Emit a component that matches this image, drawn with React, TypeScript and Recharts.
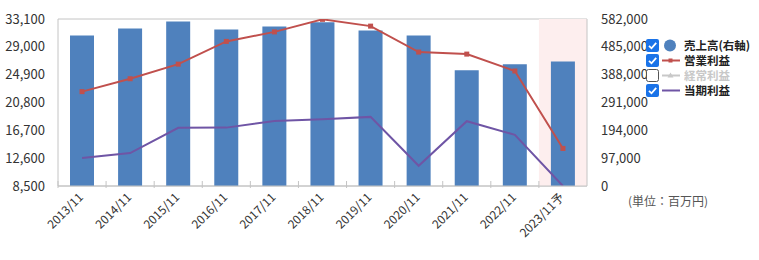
import React from 'react';
import { ComposedChart, Bar, Line, XAxis, YAxis, CartesianGrid, ReferenceArea } from 'recharts';

const periods = ['2013/11', '2014/11', '2015/11', '2016/11', '2017/11', '2018/11', '2019/11', '2020/11', '2021/11', '2022/11', '2023/11予'];
const sales = [524700, 549000, 573000, 545500, 556000, 571000, 542000, 524700, 403000, 424000, 434000];
const operatingProfit = [22400, 24300, 26450, 29800, 31200, 33050, 32050, 28230, 27930, 25440, 14030];
const netProfit = [12610, 13350, 17070, 17100, 18090, 18340, 18680, 11480, 18050, 16040, 8500];
const leftTicks = [8500, 12600, 16700, 20800, 24900, 29000, 33100];
const rightTicks = [0, 97000, 194000, 291000, 388000, 485000, 582000];
// forecast period, highlighted in pink
const forecastPeriod = '2023/11予';

const data = periods.map((p, i) => ({
    period: p,
    sales: sales[i],
    op: operatingProfit[i],
    net: netProfit[i],
}));

const FONT = '"Noto Sans CJK JP", "Noto Sans", sans-serif';
const TEXT = '#333';
const GRID = '#c4c4c4';
const BAR = '#4f81bd';
const RED = '#c0504d';
const PURPLE = '#6f55a5';
const BAND = 48.1;

const fmt = (v: number) => v.toLocaleString('en-US');

function PeriodTick(props: any) {
    const { x, y, payload } = props;
    return (
        <g>
            <line x1={x - BAND / 2} x2={x - BAND / 2} y1={y} y2={y - 7} stroke={GRID} />
            <text x={x + 2} y={y + 10} textAnchor="end" fill={TEXT} fontSize={12} fontFamily={FONT}
                transform={`rotate(-45, ${x + 2}, ${y + 10})`}>{payload.value}</text>
        </g>
    );
}

function SquareDot(props: any) {
    const { cx, cy } = props;
    if (cx == null || cy == null) return null;
    return <rect x={cx - 2.5} y={cy - 2.5} width={5} height={5} fill={RED} />;
}

function Check({ on }: { on: boolean }) {
    return (
        <svg width={13} height={13} style={{ display: 'block' }}>
            {on ? (
                <>
                    <rect x={0} y={0} width={13} height={13} rx={2} fill="#1a73e8" />
                    <path d="M3 6.8 L5.5 9.3 L10.2 3.8" stroke="#fff" strokeWidth={1.8} fill="none" />
                </>
            ) : (
                <rect x={0.5} y={0.5} width={12} height={12} rx={2} fill="#fff" stroke="#555" />
            )}
        </svg>
    );
}

const legendItems = [
    { label: '売上高(右軸)', on: true, kind: 'circle', color: BAR },
    { label: '営業利益', on: true, kind: 'square', color: RED },
    { label: '経常利益', on: false, kind: 'triangle', color: '#c8c8c8' },
    { label: '当期利益', on: true, kind: 'plain', color: PURPLE },
];

function LegendBox() {
    return (
        <div style={{ position: 'absolute', left: 646, top: 38, fontFamily: FONT }}>
            {legendItems.map(it => (
                <div key={it.label} style={{ display: 'flex', alignItems: 'center', height: 15 }}>
                    <Check on={it.on} />
                    <svg width={22} height={13} style={{ display: 'block', marginLeft: 1 }}>
                        {it.kind === 'circle' ? (
                            <circle cx={10} cy={6.5} r={6} fill={it.color} />
                        ) : (
                            <>
                                <line x1={2} x2={20} y1={6.5} y2={6.5} stroke={it.color} strokeWidth={2} />
                                {it.kind === 'square' && <rect x={8.5} y={4.5} width={4} height={4} fill={it.color} />}
                                {it.kind === 'triangle' && <path d="M10.5 3.5 L13.5 8.5 L7.5 8.5 Z" fill={it.color} />}
                            </>
                        )}
                    </svg>
                    <span style={{ fontSize: 11.5, fontWeight: 'bold', color: it.on ? '#222' : '#c8c8c8', marginLeft: 2, lineHeight: '15px', height: 15, overflow: 'hidden' }}>{it.label}</span>
                </div>
            ))}
        </div>
    );
}

export default function App() {
    return (
        <div style={{ position: 'absolute', left: 0, top: 0, width: 759, height: 260, background: '#fff' }}>
            <ComposedChart width={759} height={260} data={data} margin={{ top: 19, right: 112, bottom: 0, left: 0 }}>
                <ReferenceArea yAxisId="right" x1={forecastPeriod} x2={forecastPeriod} y1={0} y2={582000}
                    ifOverflow="visible" fill="#fdeeee" fillOpacity={1} stroke="none" />
                <CartesianGrid vertical={false} stroke={GRID} />
                <XAxis dataKey="period" height={74} stroke={GRID} tickLine={false} tickSize={0} tick={<PeriodTick />} interval={0} />
                <YAxis yAxisId="left" width={58} domain={[8500, 33100]} ticks={leftTicks} tickFormatter={fmt}
                    stroke={GRID} tickLine={false} tickMargin={7} allowDataOverflow
                    tick={{ fill: TEXT, fontSize: 13, fontFamily: FONT }} />
                <YAxis yAxisId="right" orientation="right" width={60} domain={[0, 582000]} ticks={rightTicks} tickFormatter={fmt}
                    stroke={GRID} tickLine={false} tickMargin={8}
                    tick={{ fill: TEXT, fontSize: 13, fontFamily: FONT, textAnchor: 'start' }} />
                <Bar yAxisId="right" dataKey="sales" fill={BAR} barSize={24} isAnimationActive={false} />
                <Line yAxisId="left" dataKey="op" stroke={RED} strokeWidth={2} dot={<SquareDot />} activeDot={false} isAnimationActive={false} type="linear" />
                <Line yAxisId="left" dataKey="net" stroke={PURPLE} strokeWidth={2} dot={false} activeDot={false} isAnimationActive={false} type="linear" />
            </ComposedChart>
            <LegendBox />
            <div style={{ position: 'absolute', left: 628, top: 192, fontSize: 12, color: '#555', fontFamily: FONT }}>(単位：百万円)</div>
        </div>
    );
}
